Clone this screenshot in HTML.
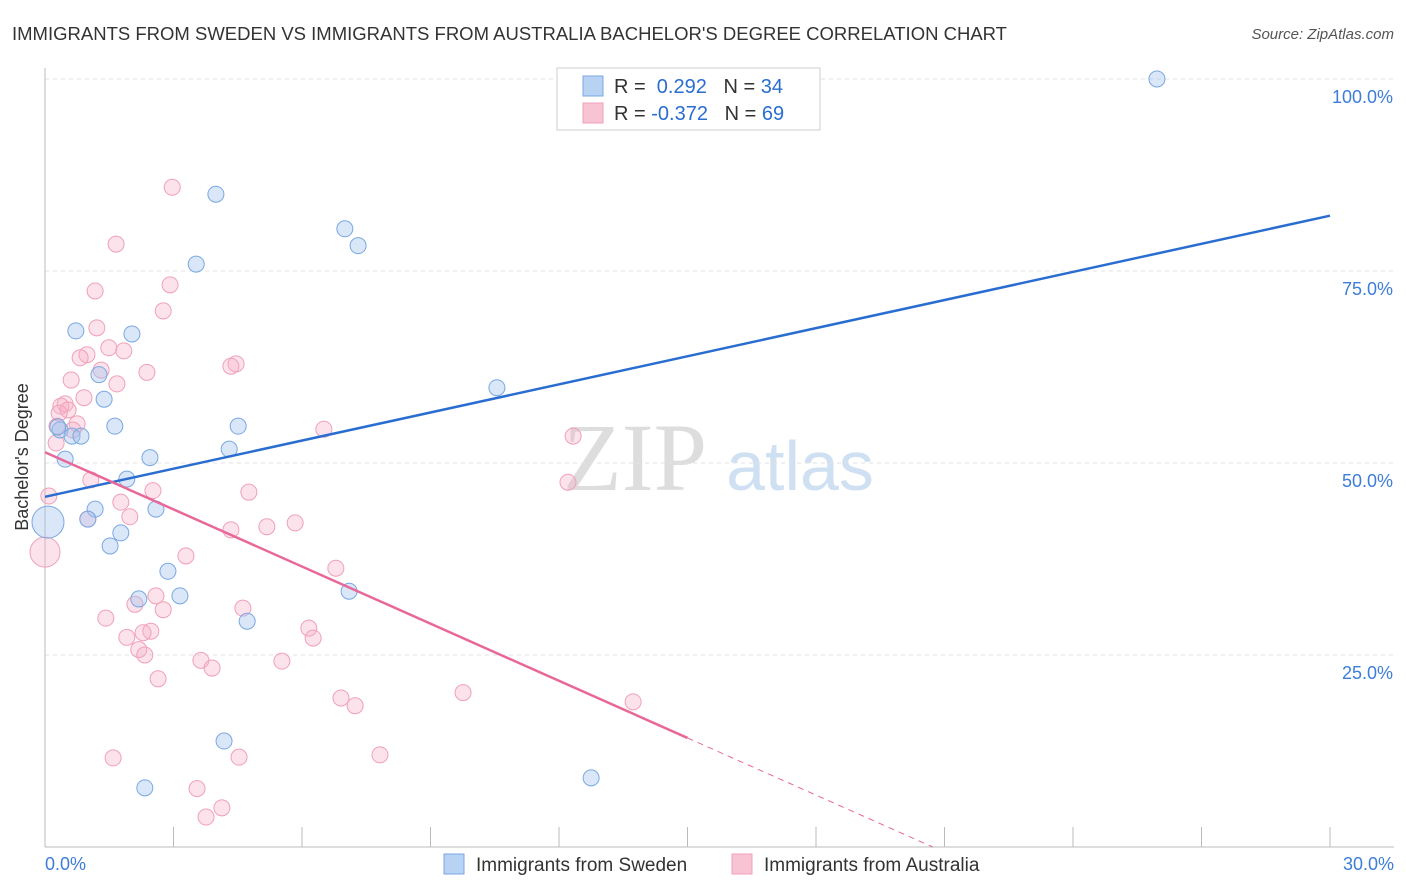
<!DOCTYPE html>
<html><head><meta charset="utf-8">
<style>
body{margin:0;background:#fff;font-family:"Liberation Sans",sans-serif;}
svg{display:block}
</style></head>
<body>
<svg id="chart" width="1406" height="892">
<text x="12" y="40" font-size="18" fill="#333" textLength="995" lengthAdjust="spacingAndGlyphs">IMMIGRANTS FROM SWEDEN VS IMMIGRANTS FROM AUSTRALIA BACHELOR'S DEGREE CORRELATION CHART</text>
<text x="1394" y="39" font-size="15" fill="#555" text-anchor="end" font-style="italic">Source: ZipAtlas.com</text>
<g>
<text x="635" y="490" font-size="96" fill="#ddd" text-anchor="middle" font-family="Liberation Serif,serif">ZIP</text>
<text x="800" y="490" font-size="70" fill="#cfe0f3" text-anchor="middle">atlas</text>
</g>
<g id="grid"></g>
<g id="marks"></g>
<text x="28" y="457" font-size="18" fill="#333" text-anchor="middle" transform="rotate(-90 28 457)">Bachelor's Degree</text>
<g>
<rect x="557" y="68" width="263" height="62" fill="#fff" stroke="#ccc"/>
<rect x="583" y="76" width="20" height="20" fill="#b7d2f3" stroke="#7aa8e0"/>
<text x="614" y="93" font-size="20" fill="#333">R = <tspan fill="#2a6dd0">&#160;0.292</tspan>&#160;&#160;&#160;N = <tspan fill="#2a6dd0">34</tspan></text>
<rect x="583" y="103" width="20" height="20" fill="#f8c4d4" stroke="#f0a0b8"/>
<text x="614" y="120" font-size="20" fill="#333">R = <tspan fill="#2a6dd0">-0.372</tspan>&#160;&#160;&#160;N = <tspan fill="#2a6dd0">69</tspan></text>
</g>
<g>
<rect x="444" y="854" width="20" height="20" fill="#b7d2f3" stroke="#7aa8e0"/>
<text x="476" y="871" font-size="19" fill="#333">Immigrants from Sweden</text>
<rect x="732" y="854" width="20" height="20" fill="#f8c4d4" stroke="#f0a0b8"/>
<text x="764" y="871" font-size="19" fill="#333">Immigrants from Australia</text>
</g>
</svg>
<script>
const xTicksLabels=["0.0%","30.0%"];
const yTickValues=[25,50,75,100];
const swedenX=[25.96,3.99,7.00,7.31,3.53,0.72,2.03,1.26,1.38,10.55,1.63,4.51,0.35,0.63,0.84,0.47,2.45,4.30,1.91,1.17,2.59,1.00,1.77,1.52,2.87,3.15,2.19,7.10,4.72,4.18,2.33,12.75,0.07,0.30];
const swedenY=[100.0,85.0,80.5,78.3,75.9,67.2,66.8,61.5,58.3,59.8,54.8,54.8,54.3,53.5,53.5,50.5,50.7,51.8,47.9,44.0,44.0,42.7,40.9,39.2,35.9,32.7,32.3,33.3,29.4,13.8,7.7,9.0,42.3,54.7];
const swedenR=[8,8,8,8,8,8,8,8,8,8,8,8,8,8,8,8,8,8,8,8,8,8,8,8,8,8,8,8,8,8,8,8,16,8];
const ausX=[2.97,1.66,1.17,2.92,2.76,1.21,1.49,1.84,0.98,0.82,1.31,2.38,1.68,0.61,4.46,4.34,0.91,0.47,0.37,0.54,0.33,0.75,0.28,0.65,6.51,12.33,0.26,0.09,1.07,2.52,1.77,4.76,12.21,1.98,5.18,5.84,4.34,3.29,6.79,2.59,2.10,2.76,4.62,1.42,6.16,6.26,1.91,2.47,2.29,2.19,2.33,3.64,3.90,5.53,2.64,9.76,6.91,7.24,13.73,1.59,4.53,7.82,3.55,4.13,3.76,0,1.00];
const ausY=[85.9,78.5,72.4,73.2,69.8,67.6,65.0,64.6,64.1,63.7,62.1,61.8,60.3,60.8,62.9,62.6,58.5,57.7,57.4,56.9,56.5,55.1,54.8,54.3,54.4,53.5,52.6,45.7,47.8,46.4,44.9,46.2,47.5,43.0,41.7,42.2,41.3,37.9,36.3,32.7,31.6,30.9,31.1,29.8,28.5,27.2,27.3,28.1,27.9,25.7,25.0,24.3,23.3,24.2,21.9,20.1,19.4,18.4,18.9,11.6,11.7,12.0,7.6,5.1,3.9,38.4,42.7];
const swedenLine=[45.6,82.2];
const ausLine=[51.4,14.2,15.0];
const X=v=>45+v*(1285/30), Y=v=>847-v*7.68;
const NS="http://www.w3.org/2000/svg";
function mk(p,tag,at){const e=document.createElementNS(NS,tag);for(const k in at)e.setAttribute(k,at[k]);p.appendChild(e);return e;}
const grid=document.getElementById('grid'), marks=document.getElementById('marks');
yTickValues.forEach(v=>{
 const l=mk(grid,'line',{x1:45,x2:1394,y1:Y(v),y2:Y(v),stroke:'#e2e2e2','stroke-dasharray':'4 4'});
 
 
 const t=mk(grid,'text',{x:1393,y:Y(v)+24,'font-size':18,fill:'#3d7dd8','text-anchor':'end'});
 t.textContent=v.toFixed(1)+'%';
 
 
});
const ax=mk(grid,'line',{x1:45,x2:1394,y1:847,y2:847,stroke:'#bbb'});


const ay=mk(grid,'line',{x1:45,x2:45,y1:68,y2:847,stroke:'#bbb'});


for(let i=1;i<=10;i++){const t=mk(grid,'line',{x1:X(i*3),x2:X(i*3),y1:827,y2:847,stroke:'#bbb'});
 
 }
[[0,'start',45],[30,'end',1394]].forEach((d,i)=>{const t=mk(grid,'text',{x:d[2],y:870,'font-size':18,fill:'#3d7dd8','text-anchor':d[1]});t.textContent=xTicksLabels[i];
 
 });
ausX.forEach((x,i)=>{const c=mk(marks,'circle',{cx:X(x),cy:Y(ausY[i]),r:i==65?15:8,fill:'rgba(246,176,198,0.35)',stroke:'#f0a0b8','stroke-width':1});
 
 });
swedenX.forEach((x,i)=>{const c=mk(marks,'circle',{cx:X(x),cy:Y(swedenY[i]),r:swedenR[i],fill:'rgba(160,196,240,0.4)',stroke:'#7aa8e0','stroke-width':1});
 
 });
const bl=mk(marks,'line',{x1:X(0),y1:Y(swedenLine[0]),x2:X(30),y2:Y(swedenLine[1]),stroke:'#2a6dd0','stroke-width':2.5});


const slope=(ausLine[1]-ausLine[0])/ausLine[2];
const pl=mk(marks,'line',{x1:X(0),y1:Y(ausLine[0]),x2:X(ausLine[2]),y2:Y(ausLine[1]),stroke:'#e8689a','stroke-width':2.5});


const xz=-ausLine[0]/slope;
const pd=mk(marks,'line',{x1:X(ausLine[2]),y1:Y(ausLine[1]),x2:X(xz),y2:Y(0),stroke:'#e8689a','stroke-width':1,'stroke-dasharray':'6 5'});


</script>
</body></html>
